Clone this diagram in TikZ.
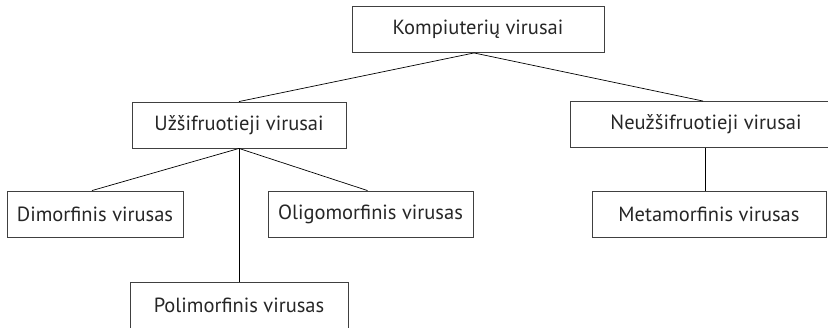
\documentclass[tikz,border=0pt]{standalone}
\usepackage{fontspec}
\setmainfont{PT Sans}
\begin{document}
\begin{tikzpicture}[x=1pt,y=-1pt,
  virbox/.style={draw=black!75,line width=0.9pt,text=black!85,inner sep=0pt,
    minimum height=46pt,font=\fontsize{20.5}{22}\selectfont},
  link/.style={draw=black,line width=0.7pt}]
\useasboundingbox (0,0) rectangle (828,327);

\node[virbox,minimum width=252pt] (top) at (478,29.5) {Kompiuterių virusai};
\node[virbox,minimum width=214pt] (uzs) at (239,125) {Užšifruotieji virusai};
\node[virbox,minimum width=272pt] (neuz) at (706,124.5) {Neužšifruotieji virusai};
\node[virbox,minimum width=176pt] (dim) at (95,214) {Dimorfinis virusas};
\node[virbox,minimum width=205pt] (oligo) at (370.5,214) {Oligomorfinis virusas};
\node[virbox,minimum width=218pt] (poli) at (239,305) {Polimorfinis virusas};
\node[virbox,minimum width=234pt] (meta) at (709,214) {Metamorfinis virusas};

\draw[link] ([xshift=-4pt]top.south) -- (uzs.north);
\draw[link] ([xshift=-4pt]top.south) -- ([xshift=-3pt]neuz.north);

\draw[link] (uzs.south) -- ([xshift=-3pt]dim.north);
\draw[link] (uzs.south) -- (poli.north);
\draw[link] (uzs.south) -- ([xshift=-3pt]oligo.north);

\draw[link] ([xshift=-1pt]neuz.south) -- ([xshift=-1pt]neuz.south |- meta.north);

\end{tikzpicture}
\end{document}
